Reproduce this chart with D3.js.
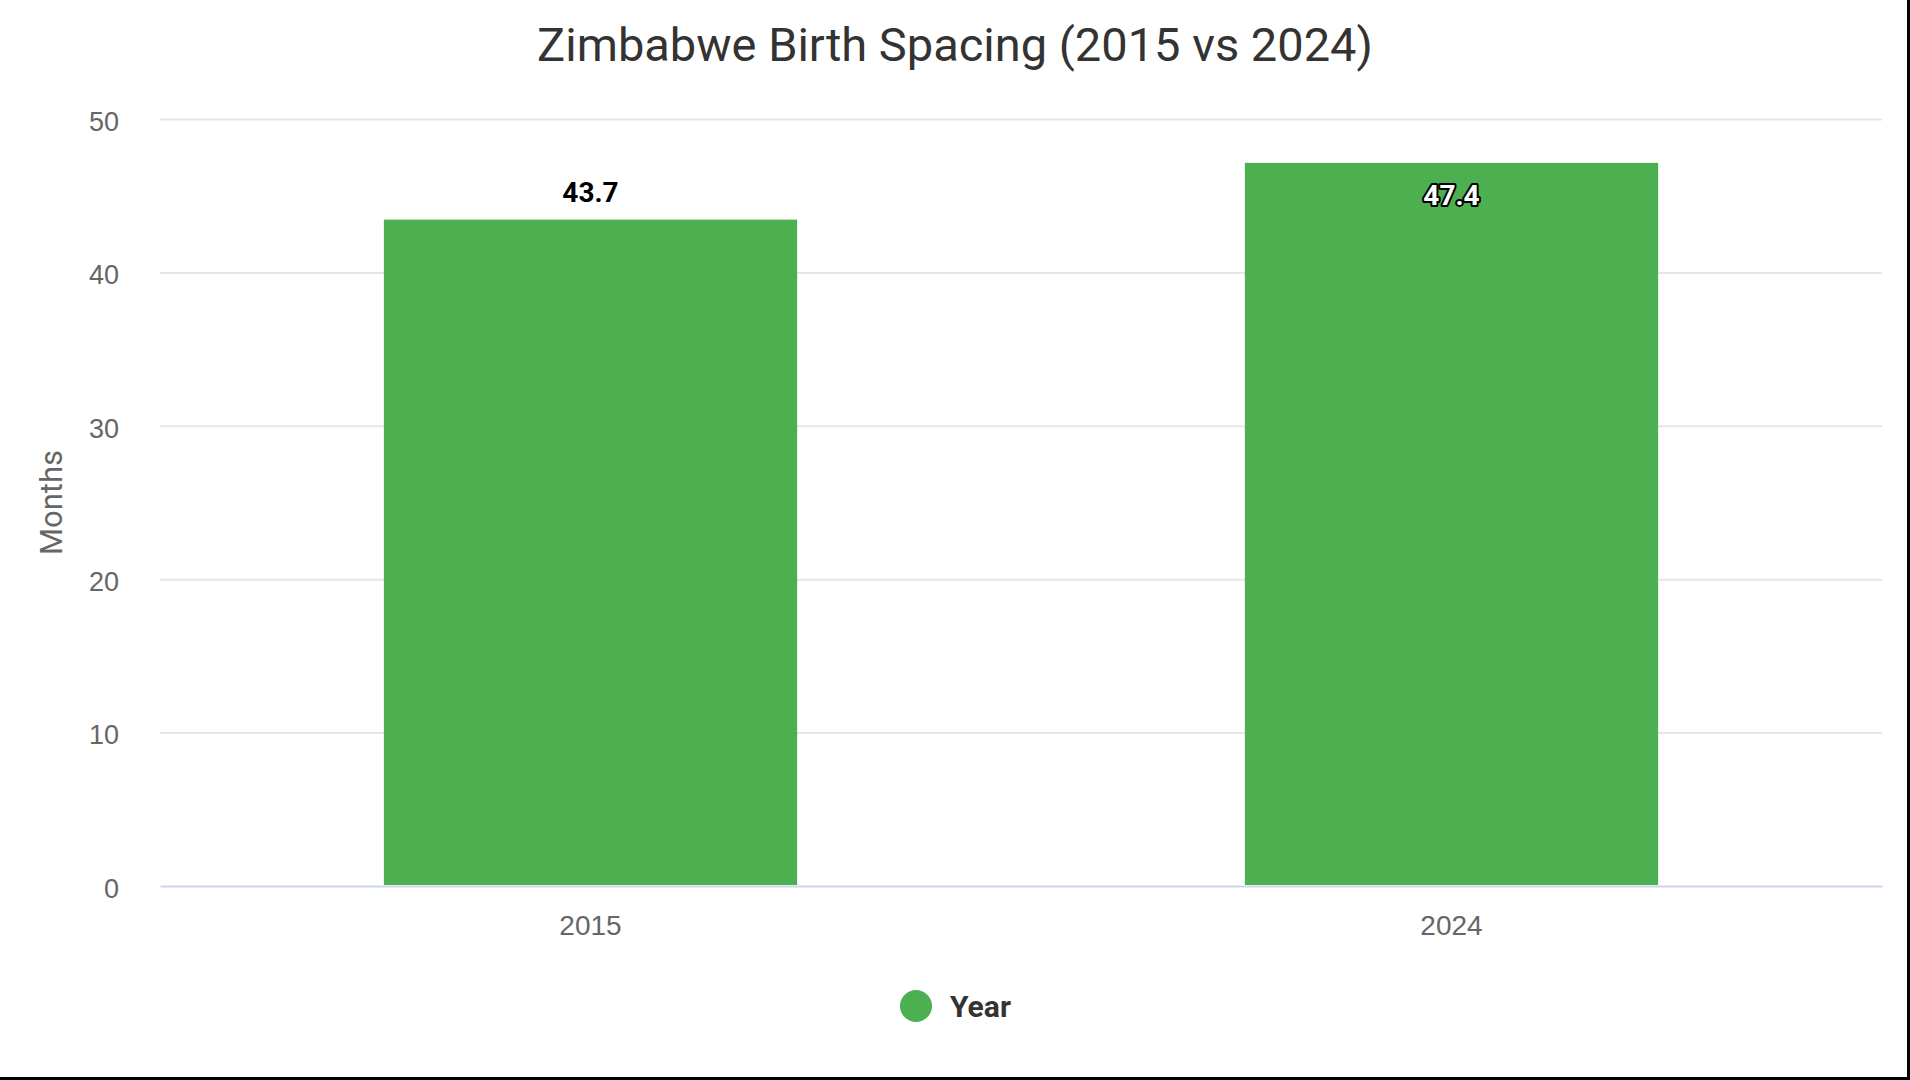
<!DOCTYPE html>
<html>
<head>
<meta charset="utf-8">
<script src="https://cdn.jsdelivr.net/npm/d3@7"></script>
<style>
  html, body { margin: 0; padding: 0; background: #fff; }
  svg { display: block; font-family: Roboto, "Noto Sans", sans-serif; }
</style>
</head>
<body>
<svg class="chart"></svg>
<script>
// DATA ////////////////////////////////////////
const years = ["2015", "2024"];
const spacing = [43.7, 47.4];
const yTicks = [0, 10, 20, 30, 40, 50];
const seriesName = "Year";
const chartTitle = "Zimbabwe Birth Spacing (2015 vs 2024)";
const yTitle = "Months";

// DEFINITIONS /////////////////////////////////
const W = 1910, H = 1080;
const margin = { top: 119, bottom: 194, right: 28, left: 160 };
const width = W - margin.left - margin.right;
const height = H - margin.top - margin.bottom;
const green = "#4caf50";

const svg = d3.select(".chart").attr("width", W).attr("height", H);

const x = d3.scaleBand()
  .domain(years)
  .range([0, width])
  .paddingInner(0.52)
  .paddingOuter(0.26);

const y = d3.scaleLinear().domain([0, 50]).range([height, 0]);

const chartG = svg.append("g")
  .attr("transform", `translate(${margin.left}, ${margin.top})`);

// GRID + AXES /////////////////////////////////
const yAxis = chartG.append("g")
  .call(d3.axisLeft(y).tickValues(yTicks).tickSize(-width).tickPadding(41));
yAxis.select(".domain").remove();
yAxis.selectAll(".tick line")
  .attr("stroke", "#e6e6e6")
  .attr("stroke-width", 2)
  .filter((d) => d === 0).remove();
yAxis.selectAll(".tick text")
  .attr("fill", "#666")
  .attr("font-size", 27)
  .attr("dy", "0.42em");

const xAxis = chartG.append("g")
  .attr("transform", `translate(0, ${height})`)
  .call(d3.axisBottom(x).tickSize(0).tickPadding(29));
xAxis.select(".domain").attr("stroke", "#ccd6eb").attr("stroke-width", 2);
xAxis.selectAll(".tick text")
  .attr("fill", "#666")
  .attr("font-size", 28);

// BARS ////////////////////////////////////////
const data = years.map((yr, i) => ({ year: yr, value: spacing[i] }));

chartG.selectAll(".bar")
  .data(data)
  .join("rect")
  .attr("class", "bar")
  .attr("x", (d) => x(d.year))
  .attr("width", x.bandwidth())
  .attr("y", (d) => y(d.value) + 4)
  .attr("height", (d) => height - y(d.value) - 5)
  .attr("fill", green);

// labels go above the bar unless they would leave the plot area
const inside = (d) => y(d.value) - 58 < 0;
chartG.selectAll(".label")
  .data(data)
  .join("text")
  .attr("class", "label")
  .attr("x", (d) => x(d.year) + x.bandwidth() / 2)
  .attr("y", (d) => (inside(d) ? y(d.value) + 46 : y(d.value) - 14))
  .attr("text-anchor", "middle")
  .attr("font-size", 28)
  .attr("font-weight", "bold")
  .attr("fill", (d) => (inside(d) ? "#fff" : "#000"))
  .attr("stroke", (d) => (inside(d) ? "#000" : "none"))
  .attr("stroke-width", 4)
  .attr("stroke-linejoin", "round")
  .attr("paint-order", "stroke")
  .text((d) => d.value.toFixed(1));

// TITLES //////////////////////////////////////
svg.append("text")
  .attr("x", 955)
  .attr("y", 61)
  .attr("text-anchor", "middle")
  .attr("font-size", 47)
  .attr("fill", "#333")
  .text(chartTitle);

svg.append("text")
  .attr("transform", `translate(62, ${margin.top + height / 2}) rotate(-90)`)
  .attr("text-anchor", "middle")
  .attr("font-size", 31)
  .attr("fill", "#666")
  .text(yTitle);

// LEGEND //////////////////////////////////////
const legend = svg.append("g").attr("transform", "translate(916, 1006)");
legend.append("circle").attr("r", 16).attr("fill", green);
legend.append("text")
  .attr("x", 34)
  .attr("y", 11)
  .attr("font-size", 30)
  .attr("font-weight", "bold")
  .attr("fill", "#333")
  .text(seriesName);

// FRAME EDGES /////////////////////////////////
svg.append("line")
  .attr("x1", 0).attr("x2", W).attr("y1", H - 1.5).attr("y2", H - 1.5)
  .attr("stroke", "#000").attr("stroke-width", 3);
svg.append("line")
  .attr("x1", W - 1.5).attr("x2", W - 1.5).attr("y1", 0).attr("y2", H)
  .attr("stroke", "#000").attr("stroke-width", 3);
</script>
</body>
</html>
